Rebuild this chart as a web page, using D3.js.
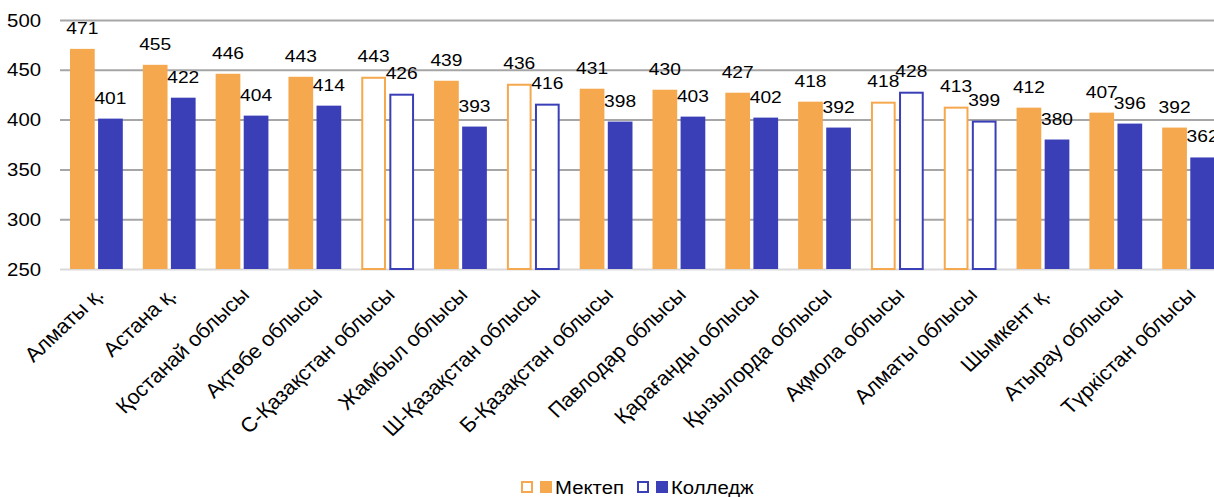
<!DOCTYPE html>
<html><head><meta charset="utf-8">
<script src="https://cdn.jsdelivr.net/npm/d3@7"></script>
<style>
html,body{margin:0;padding:0;background:#fff;overflow:hidden}
text{font-family:"Liberation Sans",Arial,sans-serif;fill:#000}
</style></head>
<body>
<svg id="chart" width="1214" height="497"></svg>
<script>
const categories = ["Алматы қ.","Астана қ.","Қостанай облысы","Ақтөбе облысы","С-Қазақстан облысы","Жамбыл облысы","Ш-Қазақстан облысы","Б-Қазақстан облысы","Павлодар облысы","Қарағанды облысы","Қызылорда облысы","Ақмола облысы","Алматы облысы","Шымкент қ.","Атырау облысы","Түркістан облысы"];
const school = [471,455,446,443,443,439,436,431,430,427,418,418,413,412,407,392];
const college = [401,422,404,414,426,393,416,398,403,402,392,428,399,380,396,362];
const hollow = [false,false,false,false,true,false,true,false,false,false,false,true,true,false,false,false];
const yTicks = [250,300,350,400,450,500];
const seriesNames = ["Мектеп","Колледж"];
const colors = ["#F5A84D","#3A3FB7"];

const SX = 1.13;
const svg = d3.select("#chart");
const mLeft = 60, plotW = 1165, mTop = 20, mBottom = 269;
const x0 = d3.scaleBand().domain(categories).range([mLeft, mLeft+plotW]).paddingInner(0.275).paddingOuter(0.1375);
const x1 = d3.scaleBand().domain([0,1]).range([0, x0.bandwidth()]).paddingInner(0.12);
const y = d3.scaleLinear().domain([250,500]).range([mBottom, mTop]);

function stext(parent, x, yy, txt, size, anchor){
  return parent.append("text").attr("transform",`translate(${x},${yy}) scale(${SX},1)`)
    .attr("text-anchor",anchor).style("font-size",size+"px").text(txt);
}

// gridlines
const yAxis = d3.axisLeft(y).tickValues(yTicks).tickSize(-plotW).tickFormat("");
const gy = svg.append("g").attr("transform",`translate(${mLeft},0)`).call(yAxis);
gy.select(".domain").remove();
gy.selectAll(".tick line").attr("stroke", d => d===250 ? "#d9d9d9" : "#a6a6a6").attr("stroke-width",2);
gy.selectAll(".tick text").remove();
yTicks.forEach(t=>{
  stext(svg, 41, y(t)+6.5, t, 18, "end");
});

const g = svg.append("g");
categories.forEach((c,i)=>{
  [school[i], college[i]].forEach((v,s)=>{
    const bx = x0(c)+x1(s), bw = x1.bandwidth();
    if(hollow[i]){
      g.append("rect").attr("x",bx+1).attr("y",y(v)+1).attr("width",bw-2).attr("height",y(250)-y(v)-1)
        .attr("fill","#fff").attr("stroke",colors[s]).attr("stroke-width",2);
    } else {
      g.append("rect").attr("x",bx).attr("y",y(v)).attr("width",bw).attr("height",y(250)-y(v))
        .attr("fill",colors[s]);
    }
    stext(g, bx+bw/2, y(v)-15, v, 17, "middle");
  });
});

// category labels
const xAxis = svg.append("g");
categories.forEach(c=>{
  const cx = x0(c)+x0.bandwidth()/2 + 3;
  xAxis.append("text").attr("transform",`translate(${cx},${291}) scale(1.06,1) rotate(-45)`)
    .attr("text-anchor","end").attr("dy","0.35em").style("font-size","20.5px").text(c);
});

// legend
const leg = svg.append("g");
const legItems = [{x:521,name:seriesNames[0],c:colors[0]},{x:637,name:seriesNames[1],c:colors[1]}];
legItems.forEach(it=>{
  leg.append("rect").attr("x",it.x+1).attr("y",482).attr("width",10).attr("height",10).attr("fill","#fff").attr("stroke",it.c).attr("stroke-width",2);
  leg.append("rect").attr("x",it.x+19).attr("y",481).attr("width",12).attr("height",12).attr("fill",it.c);
  stext(leg, it.x+34, 493.5, it.name, 18, "start");
});
</script>
</body></html>
